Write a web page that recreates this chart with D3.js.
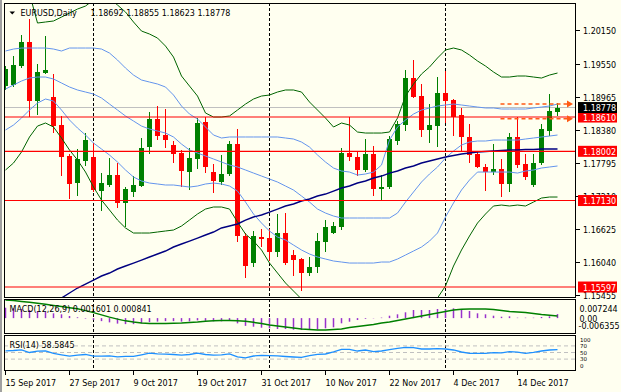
<!DOCTYPE html>
<html>
<head>
<meta charset="utf-8">
<script src="https://cdn.jsdelivr.net/npm/d3@7"></script>
<style>
  body { margin: 0; background: #fffff0; }
  svg { display: block; }
  text { font-family: "DejaVu Sans", sans-serif; font-size: 8px; fill: #000; }
</style>
</head>
<body>
<div id="chart"></div>
<script>
// Trading days shown on the chart (EURUSD daily, 15 Sep - 21 Dec 2017)
var dates = d3.timeDay
  .range(new Date(2017, 8, 15), new Date(2017, 11, 22))
  .filter(function (d) { return d.getDay() % 6 !== 0; });

// Candles
var openPrices = [1.19159,1.19177,1.19514,1.19945,1.18899,1.19395,1.18959,1.18468,1.17919,1.17446,
  1.17835,1.17906,1.17304,1.17405,1.17582,1.17091,1.17286,1.17387,1.18073,1.18569,
  1.18291,1.18114,1.17977,1.17640,1.17860,1.18527,1.17640,1.17463,1.17600,1.18131,
  1.16501,1.16028,1.16478,1.16460,1.16223,1.16559,1.16164,1.16088,1.15850,1.15946,
  1.16400,1.16559,1.16666,1.17967,1.17896,1.17671,1.17954,1.17329,1.17375,1.18190,
  1.18468,1.19296,1.18982,1.18380,1.18450,1.19030,1.18911,1.18645,1.18261,1.17954,
  1.17718,1.17640,1.17683,1.17422,1.18261,1.17777,1.17405,1.17800,1.18367,1.18692];
var highPrices = [1.19514,1.19691,1.20063,1.20342,1.19549,1.20046,1.19372,1.18628,1.17954,1.18038,
  1.18321,1.18144,1.17623,1.17878,1.17789,1.17375,1.17564,1.18232,1.18704,1.18805,
  1.18746,1.18190,1.18025,1.18055,1.18587,1.18605,1.17777,1.17936,1.18190,1.18392,
  1.16549,1.16595,1.16620,1.16620,1.16891,1.16903,1.16253,1.16106,1.16123,1.16549,
  1.16784,1.16754,1.18055,1.18615,1.17995,1.18215,1.18096,1.17582,1.18273,1.18544,
  1.19443,1.19620,1.19195,1.18840,1.19314,1.19431,1.18929,1.18764,1.18486,1.17995,
  1.17777,1.18131,1.17860,1.18332,1.18615,1.17954,1.17954,1.18486,1.19018,1.18855];
var lowPrices = [1.19089,1.19136,1.19473,1.18605,1.18645,1.19372,1.18321,1.17564,1.17151,1.17210,
  1.17742,1.17286,1.16949,1.17364,1.16992,1.16666,1.17197,1.17364,1.17954,1.18202,
  1.18055,1.17800,1.17364,1.17316,1.17683,1.17623,1.17268,1.17405,1.17564,1.16400,
  1.15751,1.15946,1.16311,1.16063,1.16134,1.15987,1.15792,1.15531,1.15792,1.15850,
  1.16223,1.16536,1.16607,1.17835,1.17564,1.17640,1.17210,1.17139,1.17329,1.18114,
  1.18367,1.18941,1.18261,1.18154,1.18084,1.18509,1.18273,1.17995,1.17800,1.17701,
  1.17304,1.17582,1.17187,1.17286,1.17701,1.17493,1.17375,1.17759,1.18273,1.18623];
var closePrices = [1.19461,1.19532,1.19945,1.18899,1.19413,1.19443,1.18450,1.17906,1.17422,1.17860,
  1.18202,1.17316,1.17446,1.17582,1.17091,1.17329,1.17405,1.18055,1.18569,1.18273,
  1.18202,1.17954,1.17658,1.17878,1.18509,1.17729,1.17481,1.17600,1.18131,1.16501,
  1.15969,1.16501,1.16442,1.16223,1.16559,1.16028,1.16075,1.15850,1.15957,1.16418,
  1.16655,1.16678,1.17977,1.17896,1.17671,1.17954,1.17329,1.17364,1.18215,1.18486,
  1.19296,1.18970,1.18380,1.18468,1.19030,1.18899,1.18615,1.18261,1.17936,1.17718,
  1.17640,1.17683,1.17422,1.18261,1.17759,1.17541,1.17800,1.18392,1.18722,1.18778];

// Bollinger bands (outer = green, inner = blue) and the long moving average
var bbUpper2 = [1.20900,1.20880,1.20850,1.20800,1.20276,1.20294,1.20312,1.20382,1.20453,1.20524,
  1.20577,1.20684,1.20737,1.20719,1.20595,1.20471,1.20294,1.20134,1.20081,1.20010,
  1.19868,1.19673,1.19337,1.19159,1.18982,1.18681,1.18610,1.18610,1.18628,1.18734,
  1.18840,1.18929,1.18982,1.19000,1.19053,1.19089,1.19089,1.19053,1.18876,1.18734,
  1.18592,1.18433,1.18504,1.18468,1.18344,1.18326,1.18326,1.18326,1.18344,1.18592,
  1.18982,1.19195,1.19372,1.19496,1.19656,1.19798,1.19833,1.19798,1.19709,1.19603,
  1.19514,1.19408,1.19319,1.19319,1.19337,1.19337,1.19319,1.19301,1.19354,1.19390];
var bbLower2 = [1.17671,1.17795,1.17990,1.18256,1.18450,1.18504,1.18433,1.18238,1.18025,1.17848,
  1.17635,1.17369,1.17139,1.16962,1.16784,1.16643,1.16554,1.16554,1.16554,1.16572,
  1.16590,1.16607,1.16678,1.16784,1.16891,1.16979,1.17015,1.17015,1.16979,1.16749,
  1.16536,1.16412,1.16253,1.16022,1.15845,1.15668,1.15526,1.15384,1.15278,1.15189,
  1.15101,1.15047,1.15012,1.14977,1.14923,1.14923,1.14923,1.14941,1.14977,1.15047,
  1.15101,1.15154,1.15207,1.15278,1.15402,1.15615,1.15969,1.16253,1.16501,1.16731,
  1.16891,1.17033,1.17050,1.17033,1.17050,1.17033,1.17103,1.17174,1.17192,1.17192];
var bbUpper1 = [1.19780,1.19815,1.19833,1.19833,1.19833,1.19833,1.19815,1.19780,1.19833,1.19833,
  1.19833,1.19833,1.19815,1.19744,1.19620,1.19478,1.19354,1.19266,1.19230,1.19195,
  1.19142,1.19000,1.18805,1.18663,1.18575,1.18433,1.18291,1.18238,1.18256,1.18256,
  1.18256,1.18256,1.18256,1.18256,1.18256,1.18238,1.18220,1.18167,1.18078,1.17937,
  1.17812,1.17706,1.17653,1.17635,1.17582,1.17600,1.17635,1.17759,1.18202,1.18433,
  1.18557,1.18663,1.18734,1.18770,1.18805,1.18823,1.18840,1.18823,1.18805,1.18787,
  1.18770,1.18770,1.18752,1.18752,1.18752,1.18752,1.18770,1.18787,1.18805,1.18840];
var bbMiddle = [1.19106,1.19177,1.19248,1.19301,1.19319,1.19319,1.19284,1.19213,1.19142,1.19089,
  1.19053,1.19018,1.18947,1.18840,1.18734,1.18628,1.18539,1.18450,1.18397,1.18362,
  1.18326,1.18256,1.18131,1.18025,1.17972,1.17919,1.17866,1.17812,1.17759,1.17724,
  1.17671,1.17617,1.17564,1.17511,1.17458,1.17387,1.17316,1.17210,1.17103,1.16979,
  1.16908,1.16855,1.16820,1.16820,1.16820,1.16820,1.16820,1.16820,1.16820,1.16908,
  1.17103,1.17281,1.17458,1.17600,1.17724,1.17883,1.18007,1.18114,1.18167,1.18185,
  1.18185,1.18202,1.18202,1.18202,1.18202,1.18220,1.18238,1.18256,1.18273,1.18291];
var bbLower1 = [1.18380,1.18468,1.18592,1.18734,1.18858,1.18929,1.18894,1.18734,1.18557,1.18415,
  1.18291,1.18149,1.18043,1.17936,1.17812,1.17671,1.17547,1.17476,1.17440,1.17423,
  1.17405,1.17405,1.17387,1.17369,1.17387,1.17423,1.17440,1.17423,1.17387,1.17298,
  1.17103,1.16891,1.16731,1.16589,1.16483,1.16430,1.16341,1.16253,1.16182,1.16129,
  1.16093,1.16058,1.16040,1.16022,1.16022,1.16022,1.16022,1.16040,1.16040,1.16093,
  1.16164,1.16235,1.16306,1.16412,1.16554,1.16838,1.17086,1.17316,1.17493,1.17635,
  1.17635,1.17635,1.17635,1.17635,1.17617,1.17653,1.17671,1.17706,1.17724,1.17742];
var maLong = [1.15012,1.15065,1.15118,1.15171,1.15225,1.15278,1.15349,1.15402,1.15491,1.15579,
  1.15650,1.15721,1.15792,1.15845,1.15916,1.15969,1.16022,1.16075,1.16129,1.16182,
  1.16235,1.16306,1.16359,1.16412,1.16465,1.16519,1.16572,1.16643,1.16678,1.16714,
  1.16784,1.16838,1.16873,1.16926,1.16979,1.17033,1.17068,1.17121,1.17157,1.17210,
  1.17245,1.17298,1.17352,1.17387,1.17440,1.17476,1.17529,1.17564,1.17617,1.17653,
  1.17706,1.17742,1.17795,1.17830,1.17866,1.17901,1.17928,1.17954,1.17972,1.17990,
  1.17998,1.18007,1.18016,1.18025,1.18025,1.18034,1.18034,1.18043,1.18043,1.18043];

// MACD(12,26,9): main (histogram) and signal
var macdMain = [0.00416,0.00392,0.00364,0.00324,0.00284,0.00256,0.00192,0.00152,0.00084,0.00032,
  -0.0002,-0.0007,-0.0012,-0.0017,-0.0022,-0.0024,-0.0024,-0.0021,-0.0016,-0.0014,
  -0.0012,-0.0012,-0.0014,-0.0013,-0.0009,-0.0011,-0.0013,-0.0013,-0.0010,-0.0021,
  -0.0031,-0.00344,-0.00384,-0.00408,-0.00436,-0.00436,-0.00464,-0.00476,-0.00476,-0.00448,
  -0.00408,-0.00368,-0.00208,-0.00144,-0.00076,-0.0003,-0.0001,0.0002,0.00096,0.00152,
  0.00232,0.00324,0.00324,0.00324,0.00364,0.00364,0.00392,0.00324,0.00284,0.00192,
  0.00152,0.00096,0.00056,0.00072,0.00016,0.00016,0.00016,0.00044,0.00072,0.001601];
var macdSignal = [0.00724,0.00700,0.00668,0.00630,0.00590,0.00550,0.00505,0.00460,0.00415,0.00370,
  0.00300,0.00220,0.00130,0.00040,-0.00040,-0.00110,-0.00160,-0.00200,-0.00220,-0.00220,
  -0.00220,-0.00210,-0.00200,-0.00180,-0.00160,-0.00130,-0.00110,-0.00100,-0.00100,-0.00110,
  -0.00130,-0.00168,-0.00216,-0.00276,-0.00316,-0.00356,-0.00396,-0.00436,-0.00456,-0.00476,
  -0.00476,-0.00456,-0.00436,-0.00376,-0.00336,-0.00296,-0.00256,-0.00196,-0.00156,-0.00096,
  -0.00036,0.00024,0.00084,0.00144,0.00204,0.00264,0.00324,0.00356,0.00364,0.00364,
  0.00364,0.00344,0.00304,0.00264,0.00244,0.00224,0.00184,0.00144,0.00112,0.000841];

// RSI(14)
var rsiValues = [55,56,58,50,54,55,47,43,39,42,
  44,39,39,40,37,38,38,43,48,46,
  45,44,42,44,48,44,42,43,46,37,
  34,39.4,41.4,40.5,39.9,37.9,36.4,35.4,40.4,44.4,
  45.5,52,59.6,59.6,54.5,57.6,52.5,54.5,58.6,62.6,
  65.7,64.6,60.6,60.6,61.6,60.6,57.6,51.5,47.5,47.5,
  47.5,49.5,49,52.5,51,47.5,50.5,54.5,57.6,58.5845];

// Axis ticks, levels and objects
var priceTicks = [1.20150, 1.19550, 1.18965, 1.18380, 1.17795, 1.17210, 1.16625, 1.16040, 1.15455];
var levelPrices = [1.18610, 1.18002, 1.17130, 1.15597];
var bidPrice = 1.18778;
var alertPrices = [1.18840, 1.18580];
var alertStartIndex = 62;
var separatorIndex = [11, 33, 55];
var dateTickIndex = [0, 8, 16, 24, 32, 40, 48, 56, 64];
var macdAxisValues = [0.007244, 0, -0.006355];
var rsiAxisValues = [100, 70, 50, 30, 0];
var rsiLevels = [70, 50, 30];

// Layout
var width = 621, height = 392;
var plotLeft = 4, plotRight = 576;
var mainTop = 3, mainBottom = 297;
var macdTop = 299, macdBottom = 333;
var rsiTop = 335, rsiBottom = 370;
var n = dates.length;

var xBand = d3.scaleBand().domain(d3.range(n)).range([1.5, 1.5 + 8 * n]);
function cx(i) { return xBand(i) + xBand.bandwidth() / 2; }

var yPrice = d3.scaleLinear().domain([1.1542, 1.20631]).range([mainBottom, mainTop]);
var yMacd = d3.scaleLinear().domain([-0.006355, 0.007244]).range([334, 300]);
var yRsi = d3.scaleLinear().domain([0, 100]).range([369, 336]);
// the RSI axis labels are stacked evenly down the short panel
var yRsiLabel = d3.scalePoint().domain(rsiAxisValues).range([341.5, 368]);

var svg = d3.select("#chart").append("svg").attr("width", width).attr("height", height);

svg.append("rect").attr("width", width).attr("height", height).attr("fill", "#fffff0");

// clip paths for the three panels
var defs = svg.append("defs");
[["clip-main", mainTop, mainBottom], ["clip-macd", macdTop, macdBottom], ["clip-rsi", rsiTop, rsiBottom]]
  .forEach(function (c) {
    defs.append("clipPath").attr("id", c[0]).append("rect")
      .attr("x", plotLeft).attr("y", c[1])
      .attr("width", plotRight - plotLeft).attr("height", c[2] - c[1]);
  });

function drawSeparators(g, top, bottom) {
  g.selectAll("line.sep").data(separatorIndex).enter().append("line")
    .attr("class", "sep")
    .attr("x1", cx).attr("x2", cx)
    .attr("y1", top).attr("y2", bottom)
    .attr("stroke", "#000").attr("stroke-dasharray", "3,2")
    .attr("shape-rendering", "crispEdges");
}

// ---------- main price panel ----------
var mainG = svg.append("g").attr("clip-path", "url(#clip-main)");

mainG.append("line")
  .attr("x1", plotLeft).attr("x2", plotRight)
  .attr("y1", yPrice(bidPrice)).attr("y2", yPrice(bidPrice))
  .attr("stroke", "#c0c0c0").attr("shape-rendering", "crispEdges");

drawSeparators(mainG, mainTop, mainBottom);

function candleColor(i) {
  return closePrices[i] >= openPrices[i] ? "#008000" : "#ff0000";
}

var candles = mainG.selectAll("g.candle").data(d3.range(n)).enter().append("g")
  .attr("class", "candle").attr("shape-rendering", "crispEdges");

candles.append("line")
  .attr("x1", cx).attr("x2", cx)
  .attr("y1", function (i) { return yPrice(highPrices[i]); })
  .attr("y2", function (i) { return yPrice(lowPrices[i]); })
  .attr("stroke", candleColor);

candles.append("rect")
  .attr("x", function (i) { return cx(i) - 2.5; })
  .attr("width", 5)
  .attr("y", function (i) { return yPrice(Math.max(openPrices[i], closePrices[i])); })
  .attr("height", function (i) {
    return Math.max(1, Math.abs(yPrice(openPrices[i]) - yPrice(closePrices[i])));
  })
  .attr("fill", candleColor);

var priceLine = d3.line()
  .x(function (d, i) { return cx(i); })
  .y(function (d) { return yPrice(d); });

[
  [bbUpper2, "#006400", 1],
  [bbLower2, "#006400", 1],
  [bbUpper1, "#6495ed", 1],
  [bbMiddle, "#6495ed", 1],
  [bbLower1, "#6495ed", 1],
  [maLong, "#000080", 1.4]
].forEach(function (s) {
  mainG.append("path")
    .attr("d", priceLine(s[0]))
    .attr("fill", "none")
    .attr("stroke", s[1])
    .attr("stroke-width", s[2]);
});

// horizontal levels
mainG.selectAll("line.level").data(levelPrices).enter().append("line")
  .attr("class", "level")
  .attr("x1", plotLeft).attr("x2", plotRight)
  .attr("y1", yPrice).attr("y2", yPrice)
  .attr("stroke", "#ff0000").attr("stroke-width", 1.2);

// dashed alert arrows
var arrowEnd = plotRight - 3;
mainG.selectAll("line.alert").data(alertPrices).enter().append("line")
  .attr("x1", cx(alertStartIndex) - 1).attr("x2", arrowEnd - 5)
  .attr("y1", yPrice).attr("y2", yPrice)
  .attr("stroke", "#ff5a14").attr("stroke-width", 1.5)
  .attr("stroke-dasharray", "4,3");
mainG.selectAll("path.alert").data(alertPrices).enter().append("path")
  .attr("d", function (p) {
    var y = yPrice(p);
    return "M" + (arrowEnd - 6) + "," + (y - 3.5) + "L" + arrowEnd + "," + y +
      "L" + (arrowEnd - 6) + "," + (y + 3.5) + "Z";
  })
  .attr("fill", "#ff5a14");

// title
svg.append("path").attr("d", "M9.5,11.5L15,11.5L12.25,14.5Z").attr("fill", "#000");
svg.append("text").attr("x", 20.5).attr("y", 15.5).text("EURUSD,Daily");
svg.append("text").attr("x", 90.5).attr("y", 15.5)
  .text([openPrices[n - 1], highPrices[n - 1], lowPrices[n - 1], closePrices[n - 1]]
    .map(function (v) { return v.toFixed(5); }).join(" "));

// ---------- MACD panel ----------
var macdG = svg.append("g").attr("clip-path", "url(#clip-macd)");
drawSeparators(macdG, macdTop, macdBottom);

macdG.selectAll("rect.hist").data(macdMain).enter().append("rect")
  .attr("x", function (d, i) { return cx(i) - 0.75; })
  .attr("width", 1.5)
  .attr("y", function (d) { return Math.min(yMacd(d), yMacd(0)); })
  .attr("height", function (d) { return Math.abs(yMacd(d) - yMacd(0)); })
  .attr("fill", "#9932cc");

macdG.append("path")
  .attr("d", d3.line().x(function (d, i) { return cx(i); }).y(yMacd)(macdSignal))
  .attr("fill", "none").attr("stroke", "#008000").attr("stroke-width", 1.5);

svg.append("text").attr("x", 9.5).attr("y", 311.5)
  .text("MACD(12,26,9) " + macdMain[n - 1].toFixed(6) + " " + macdSignal[n - 1].toFixed(6));

// ---------- RSI panel ----------
var rsiG = svg.append("g").attr("clip-path", "url(#clip-rsi)");
drawSeparators(rsiG, rsiTop, rsiBottom);

rsiG.selectAll("line.lvl").data(rsiLevels).enter().append("line")
  .attr("x1", plotLeft).attr("x2", plotRight)
  .attr("y1", yRsi).attr("y2", yRsi)
  .attr("stroke", "#c0c0c0").attr("stroke-dasharray", "4,3");

rsiG.append("path")
  .attr("d", d3.line().x(function (d, i) { return cx(i); }).y(yRsi)(rsiValues))
  .attr("fill", "none").attr("stroke", "#1e90ff").attr("stroke-width", 1.3);

svg.append("text").attr("x", 9.5).attr("y", 347.5)
  .text("RSI(14) " + rsiValues[n - 1].toFixed(4));

// ---------- frames ----------
svg.append("line").attr("x1", 1).attr("x2", 1).attr("y1", 0).attr("y2", height)
  .attr("stroke", "#a0a0a0").attr("stroke-width", 2);

[[mainTop, mainBottom], [macdTop, macdBottom], [rsiTop, rsiBottom]].forEach(function (p) {
  svg.append("rect")
    .attr("x", plotLeft + 0.5).attr("y", p[0] + 0.5)
    .attr("width", plotRight - plotLeft - 1).attr("height", p[1] - p[0])
    .attr("fill", "none").attr("stroke", "#000");
});

// ---------- price axis ----------
var axisG = svg.append("g");
axisG.selectAll("line.ptick").data(priceTicks).enter().append("line")
  .attr("x1", plotRight).attr("x2", plotRight + 4)
  .attr("y1", function (v) { return Math.round(yPrice(v)) + 0.5; })
  .attr("y2", function (v) { return Math.round(yPrice(v)) + 0.5; })
  .attr("stroke", "#000");
axisG.selectAll("text.ptick").data(priceTicks).enter().append("text")
  .attr("x", plotRight + 7).attr("y", yPrice).attr("dy", "0.45em")
  .text(function (v) { return v.toFixed(5); });

function priceBox(p, fill) {
  axisG.append("rect")
    .attr("x", plotRight + 2).attr("y", yPrice(p) - 5.5)
    .attr("width", 39).attr("height", 11).attr("fill", fill);
  axisG.append("text")
    .attr("x", plotRight + 7).attr("y", yPrice(p)).attr("dy", "0.45em")
    .style("fill", "#fff").text(p.toFixed(5));
}
levelPrices.forEach(function (p) { priceBox(p, "#ff0000"); });
priceBox(bidPrice, "#000");

// MACD axis
axisG.selectAll("text.macd").data(macdAxisValues).enter().append("text")
  .attr("x", function (v) { return v < 0 ? plotRight + 2.5 : plotRight + 3.5; })
  .attr("y", function (v, i) { return [311.5, 321.5, 329.3][i]; })
  .text(function (v) { return v === 0 ? "0.00" : v.toFixed(6); });

// RSI axis
axisG.selectAll("text.rsi").data(rsiAxisValues).enter().append("text")
  .attr("x", plotRight + 4).attr("y", yRsiLabel)
  .style("font-size", "5.5px")
  .text(function (v) { return v; });

// ---------- date axis ----------
svg.selectAll("line.dtick").data(dateTickIndex).enter().append("line")
  .attr("x1", cx).attr("x2", cx)
  .attr("y1", rsiBottom + 0.5).attr("y2", rsiBottom + 5)
  .attr("stroke", "#000").attr("shape-rendering", "crispEdges");

var fmt = d3.timeFormat("%-d %b %Y");
svg.selectAll("text.dlabel").data(dateTickIndex).enter().append("text")
  .attr("x", function (i) { return cx(i); })
  .attr("y", 385.5)
  .text(function (i) { return fmt(dates[i]); });
</script>
</body>
</html>
